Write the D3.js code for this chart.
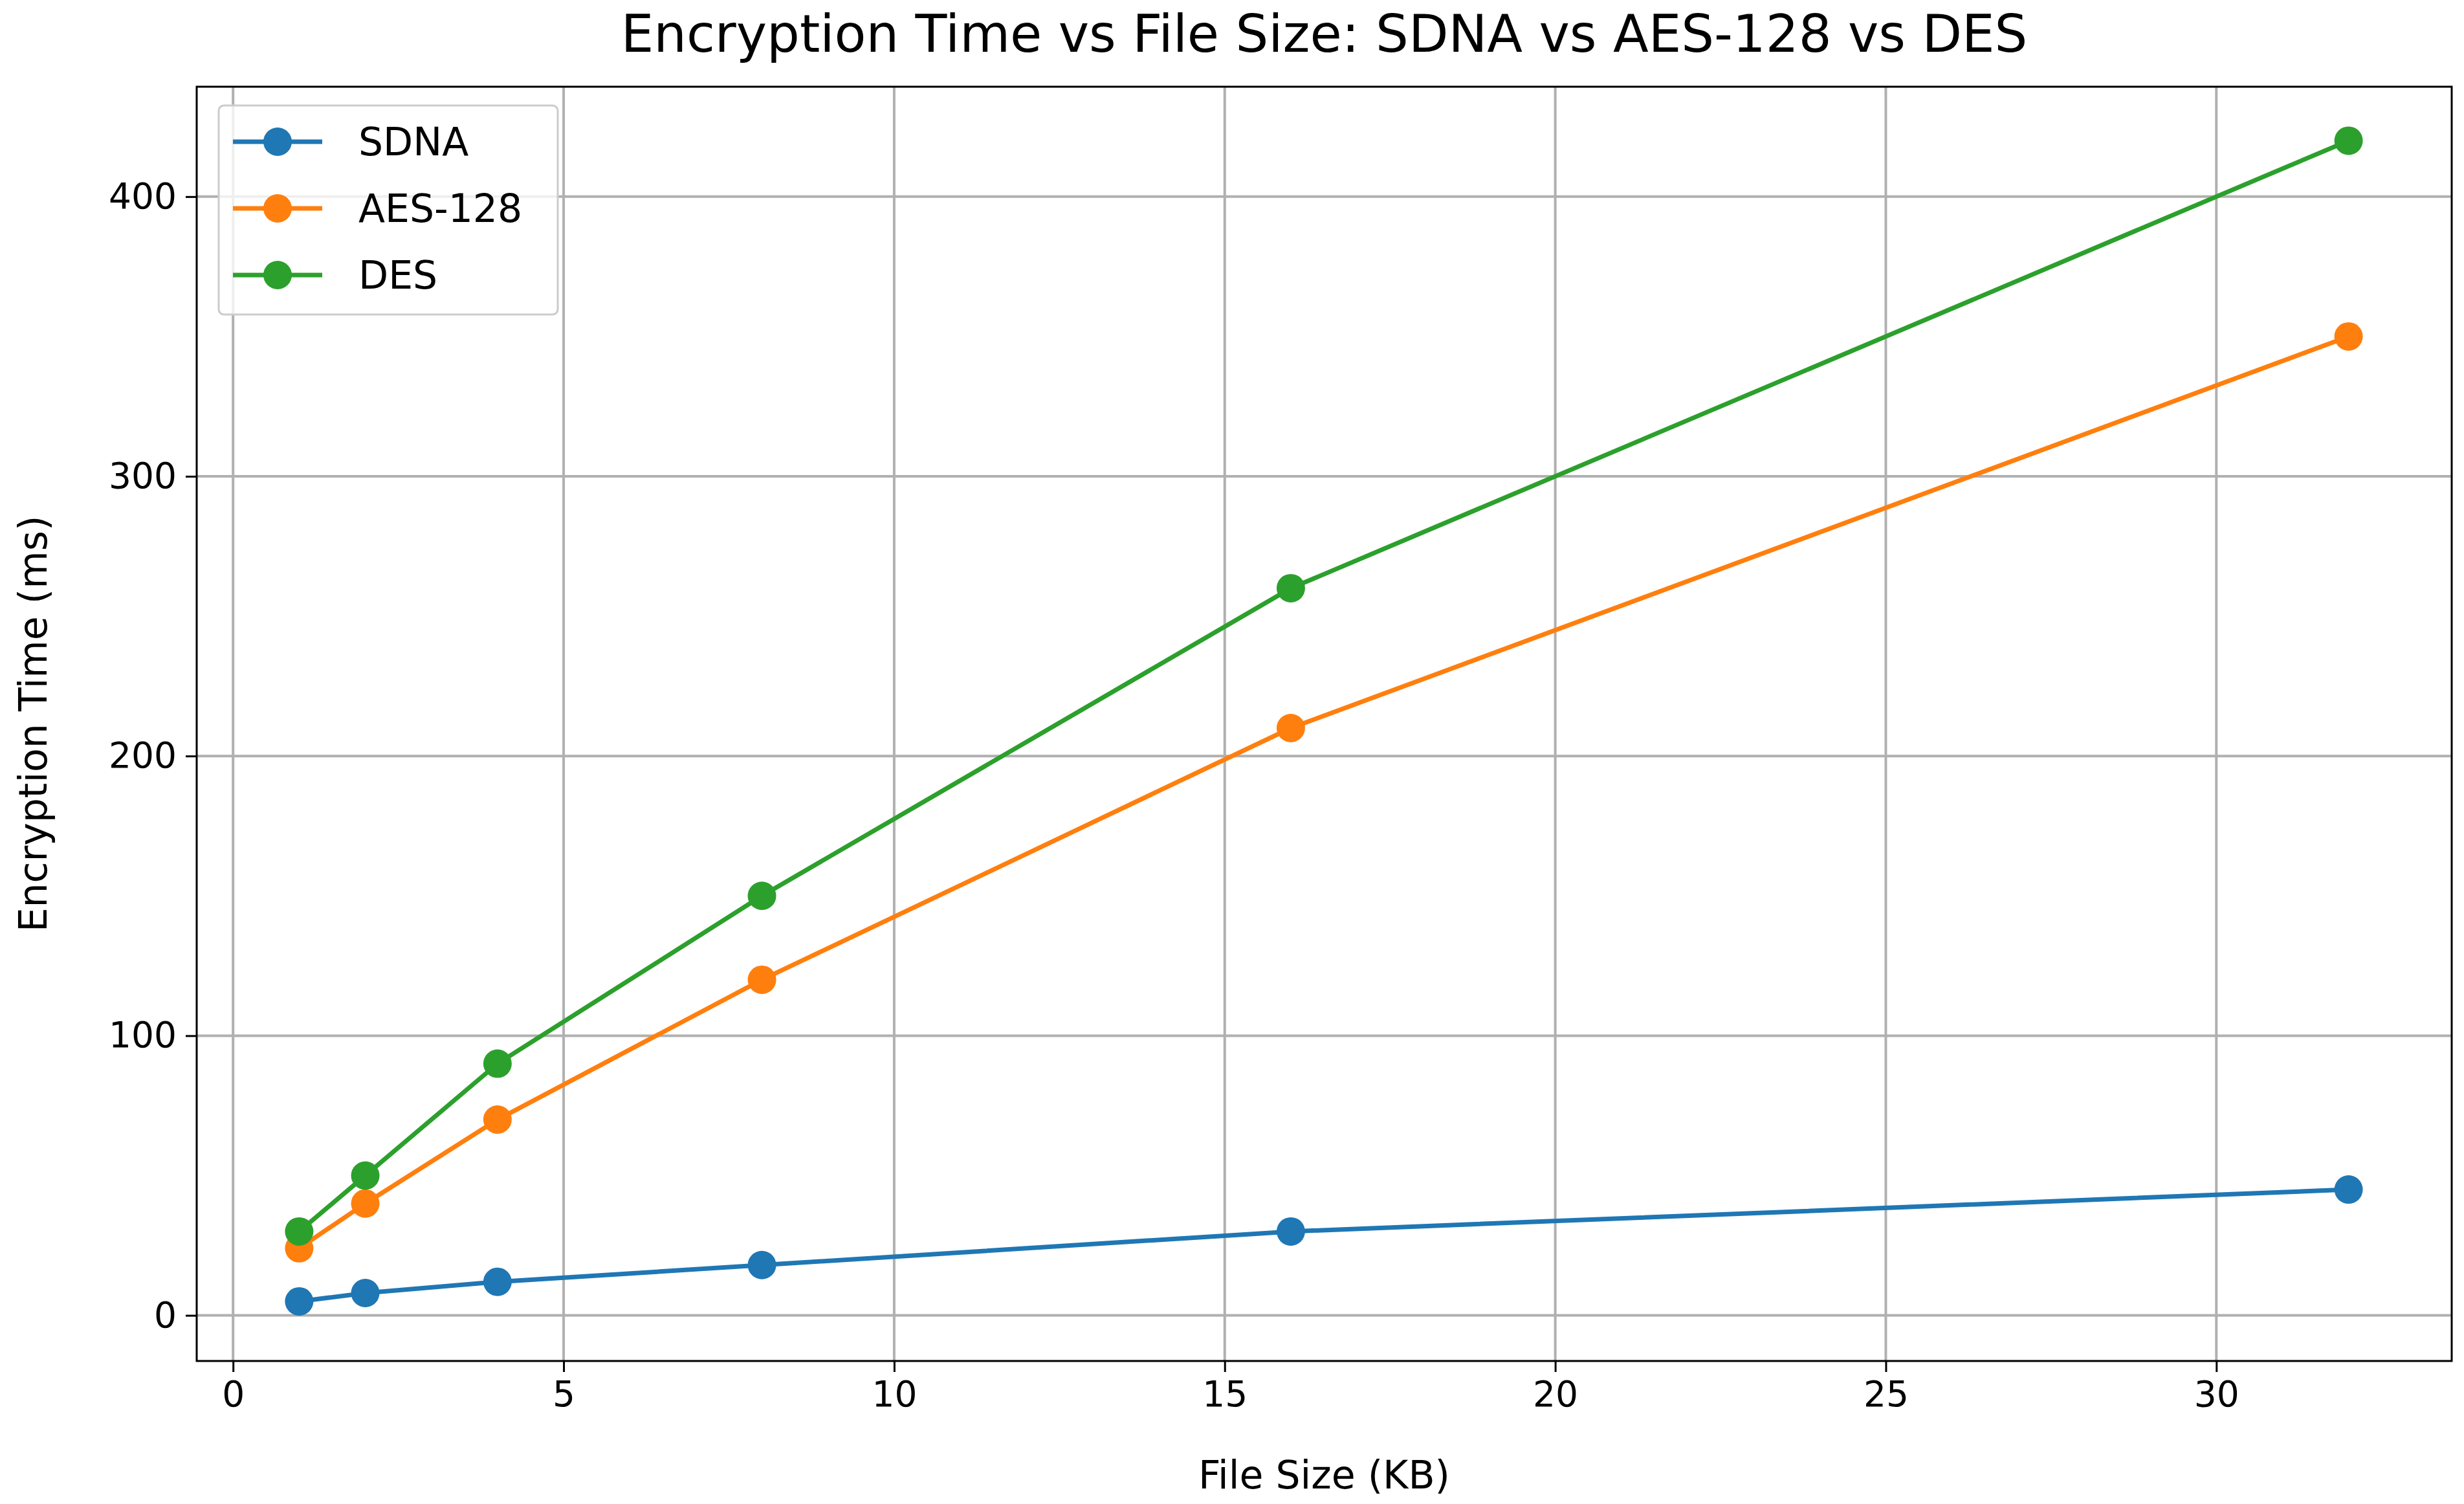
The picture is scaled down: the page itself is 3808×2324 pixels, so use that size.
<!DOCTYPE html>
<html>
<head>
<meta charset="utf-8">
<script src="https://d3js.org/d3.v7.min.js"></script>
<style>body{margin:0;background:#fff;font-family:"DejaVu Sans",sans-serif;}</style>
</head>
<body>
<script>
var fileSizes = [1, 2, 4, 8, 16, 32];
var sdna = [5, 8, 12, 18, 30, 45];
var aes128 = [24, 40, 70, 120, 210, 350];
var des = [30, 50, 90, 150, 260, 420];
var seriesNames = ["SDNA", "AES-128", "DES"];
var colors = ["#1f77b4", "#ff7f0e", "#2ca02c"];
var xTicks = [0, 5, 10, 15, 20, 25, 30];
var yTicks = [0, 100, 200, 300, 400];

var W = 3808, H = 2324;
var m = {left: 304, right: 3789, top: 134, bottom: 2103};

var svg = d3.select("body").append("svg").attr("width", W).attr("height", H);

var x = d3.scaleLinear().domain([-0.55, 33.56]).range([m.left, m.right]);
var y = d3.scaleLinear().domain([-16.3, 439.3]).range([m.bottom, m.top]);

// 网格
svg.append("g").selectAll("line").data(xTicks).enter().append("line")
    .attr("x1", d => x(d)).attr("x2", d => x(d))
    .attr("y1", m.top).attr("y2", m.bottom)
    .attr("stroke", "#b0b0b0").attr("stroke-width", 4);
svg.append("g").selectAll("line").data(yTicks).enter().append("line")
    .attr("y1", d => y(d)).attr("y2", d => y(d))
    .attr("x1", m.left).attr("x2", m.right)
    .attr("stroke", "#b0b0b0").attr("stroke-width", 4);

// 坐标轴
var xAxis = svg.append("g").attr("transform", "translate(0," + m.bottom + ")")
    .call(d3.axisBottom(x).tickValues(xTicks).tickSize(17).tickPadding(14));
var yAxis = svg.append("g").attr("transform", "translate(" + m.left + ",0)")
    .call(d3.axisLeft(y).tickValues(yTicks).tickSize(17).tickPadding(14));
[xAxis, yAxis].forEach(function(a){
    a.select(".domain").remove();
    a.selectAll("line").attr("stroke", "#000").attr("stroke-width", 3);
    a.selectAll("text").attr("font-size", 55).attr("font-family", "DejaVu Sans").attr("fill", "#000");
});

svg.append("rect").attr("x", m.left).attr("y", m.top)
    .attr("width", m.right - m.left).attr("height", m.bottom - m.top)
    .attr("fill", "none").attr("stroke", "#000").attr("stroke-width", 3);

// 数据线
var allSeries = [sdna, aes128, des];
var line = d3.line().x((d, i) => x(fileSizes[i])).y(d => y(d));
allSeries.forEach(function(s, k){
    svg.append("path").datum(s).attr("d", line)
        .attr("fill", "none").attr("stroke", colors[k]).attr("stroke-width", 7);
    svg.append("g").selectAll("circle").data(s).enter().append("circle")
        .attr("cx", (d, i) => x(fileSizes[i])).attr("cy", d => y(d))
        .attr("r", 22).attr("fill", colors[k]);
});

// 标题
svg.append("text").attr("x", (m.left + m.right) / 2).attr("y", 80)
    .attr("text-anchor", "middle").attr("font-size", 80).text("Encryption Time vs File Size: SDNA vs AES-128 vs DES");
svg.append("text").attr("x", (m.left + m.right) / 2).attr("y", 2300)
    .attr("text-anchor", "middle").attr("font-size", 60).text("File Size (KB)");
svg.append("text").attr("transform", "translate(72," + (m.top + m.bottom) / 2 + ") rotate(-90)")
    .attr("text-anchor", "middle").attr("font-size", 60).text("Encryption Time (ms)");

// 图例
var lg = svg.append("g");
lg.append("rect").attr("x", 338).attr("y", 163).attr("width", 524).attr("height", 323)
    .attr("rx", 8).attr("fill", "#fff").attr("fill-opacity", 0.8)
    .attr("stroke", "#ccc").attr("stroke-width", 3);
seriesNames.forEach(function(n, k){
    var ly = 219 + k * 103;
    lg.append("line").attr("x1", 360).attr("x2", 498).attr("y1", ly).attr("y2", ly)
        .attr("stroke", colors[k]).attr("stroke-width", 7);
    lg.append("circle").attr("cx", 429).attr("cy", ly).attr("r", 22).attr("fill", colors[k]);
    lg.append("text").attr("x", 554).attr("y", ly + 21).attr("font-size", 60).text(n);
});
</script>
</body>
</html>
